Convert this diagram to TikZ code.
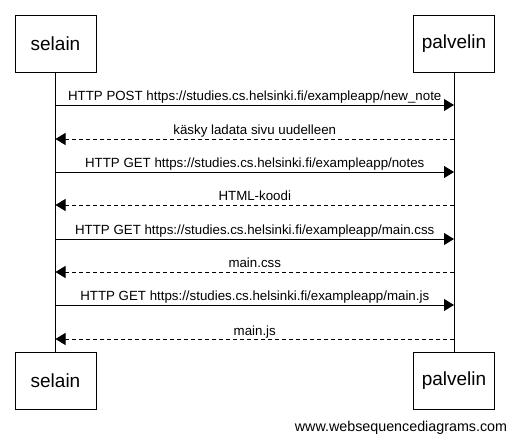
\documentclass[tikz,border=0pt]{standalone}
\usepackage{fontspec}
\setmainfont{Liberation Sans}
\usetikzlibrary{arrows.meta}
\begin{document}
\begin{tikzpicture}[x=1pt,y=-1pt,
  actor/.style={draw,line width=0.8pt,minimum width=81pt,minimum height=57pt,inner sep=0pt,font=\fontsize{19}{21}\selectfont},
  msg/.style={line width=0.8pt,-{Triangle[length=10pt,width=12pt]}},
  ret/.style={msg,dash pattern=on 4pt off 3pt},
  lbl/.style={font=\fontsize{13.3}{15}\selectfont,inner sep=0pt,anchor=base}]
\useasboundingbox (0,0) rectangle (516,443);
\fill[white] (0,0) rectangle (516,443);
\node[actor] (s1) at (55.5,43.5) {selain};
\node[actor] (p1) at (454,43.5) {palvelin};
\node[actor] (s2) at (55.5,380.5) {selain};
\node[actor] (p2) at (454,380.5) {palvelin};
\draw[line width=0.8pt] (s1.south) -- (s2.north);
\draw[line width=0.8pt] (p1.south) -- (p2.north);
\foreach \n/\y in {a/105,b/139,c/172,d/205,e/239,f/272,g/305,h/339}{
  \coordinate (sl\n) at (55.5,\y);
  \coordinate (pl\n) at (454,\y);
}
\draw[msg] (sla) -- (pla) node[lbl,midway,yshift=4pt] (ta) {HTTP POST https://studies.cs.helsinki.fi/exampleapp/new\_note};
\draw[ret] (plb) -- (slb) node[lbl,midway,yshift=4pt] (tb) {käsky ladata sivu uudelleen};
\draw[msg] (slc) -- (plc) node[lbl,midway,yshift=4pt] (tc) {HTTP GET https://studies.cs.helsinki.fi/exampleapp/notes};
\draw[ret] (pld) -- (sld) node[lbl,midway,yshift=4pt] (td) {HTML-koodi};
\draw[msg] (sle) -- (ple) node[lbl,midway,yshift=4pt] (te) {HTTP GET https://studies.cs.helsinki.fi/exampleapp/main.css};
\draw[ret] (plf) -- (slf) node[lbl,midway,yshift=4pt] (tf) {main.css};
\draw[msg] (slg) -- (plg) node[lbl,midway,yshift=4pt] (tg) {HTTP GET https://studies.cs.helsinki.fi/exampleapp/main.js};
\draw[ret] (plh) -- (slh) node[lbl,midway,yshift=4pt] (th) {main.js};
\node[font=\fontsize{14.3}{16}\selectfont,inner sep=0pt] (foot) at (401,428) {www.websequencediagrams.com};
\end{tikzpicture}
\end{document}
